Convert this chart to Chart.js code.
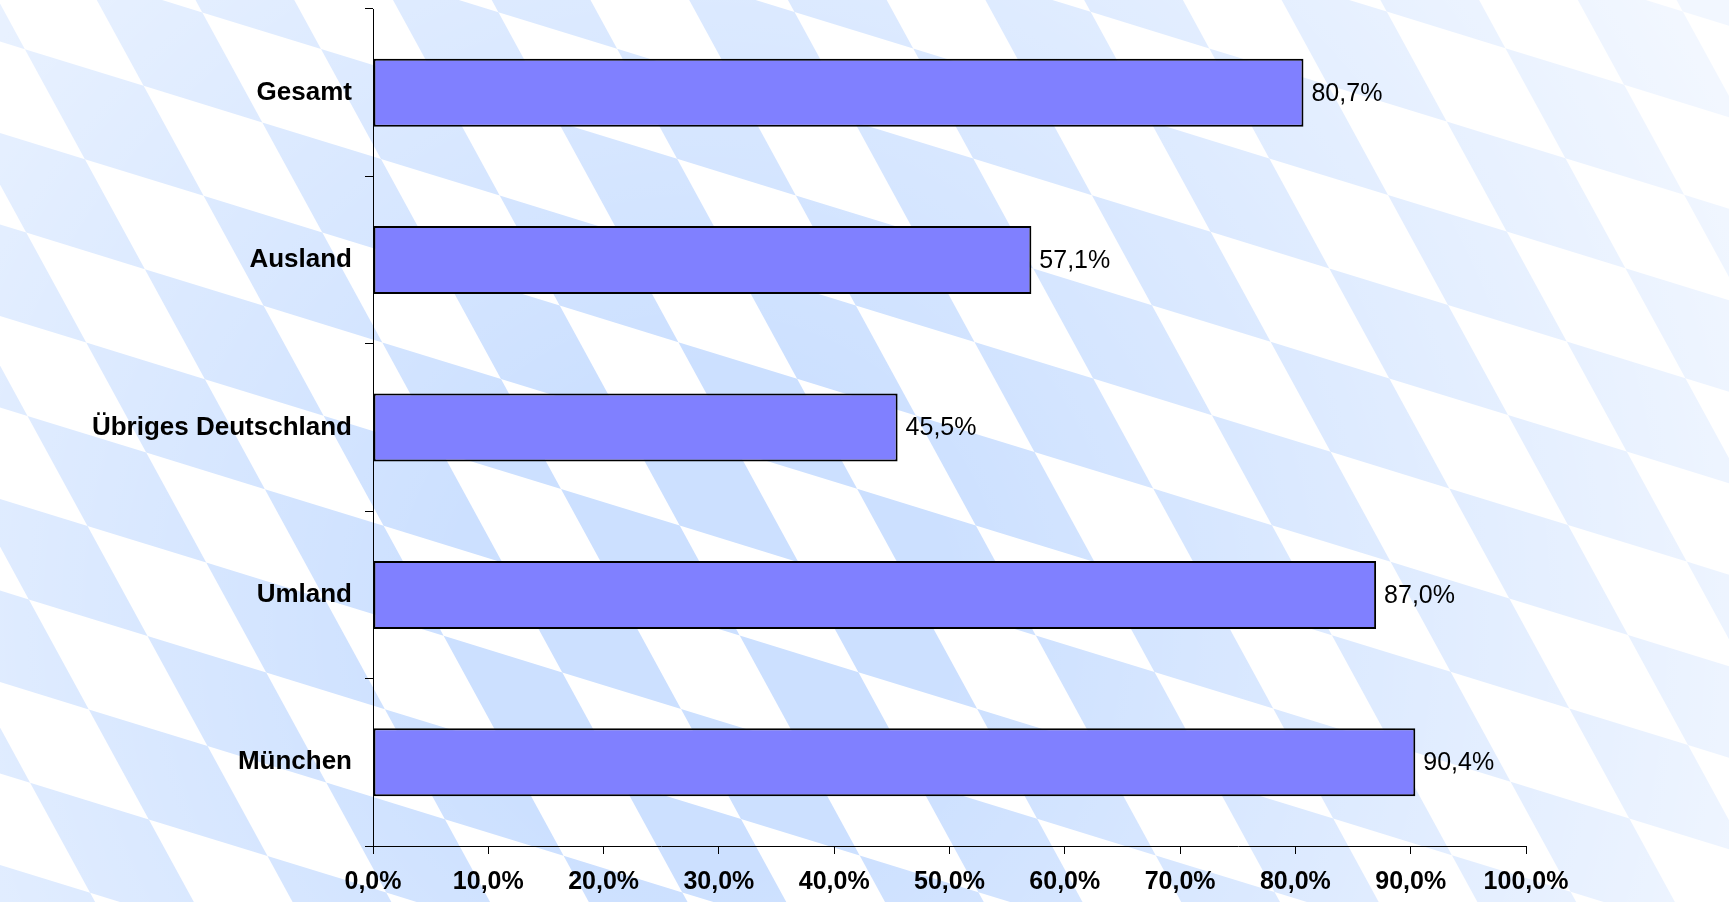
<!DOCTYPE html>
<html>
<head>
<meta charset="utf-8">
<script src="https://cdn.jsdelivr.net/npm/chart.js@4"></script>
<style>
  html, body { margin: 0; padding: 0; background: #fff; }
  #wrap { width: 1729px; height: 902px; }
</style>
</head>
<body>
<div id="wrap"><canvas id="chart" width="1729" height="902"></canvas></div>
<script>
// data
const categories = ["Gesamt", "Ausland", "Übriges Deutschland", "Umland", "München"];
const shares = [80.7, 57.1, 45.5, 87.0, 90.4];
const tickValues = [0, 10, 20, 30, 40, 50, 60, 70, 80, 90, 100];

const FONT = "'Liberation Sans', Arial, sans-serif";
const pct = (v) => v.toFixed(1).replace(".", ",") + "%";

// bavarian lozenge background
const rautenPlugin = {
  id: "rauten",
  beforeDraw(chart) {
    const ctx = chart.ctx;
    const w = chart.width, h = chart.height;
    ctx.save();
    ctx.fillStyle = "#fff";
    ctx.fillRect(0, 0, w, h);
    const o = { x: 1508, y: 415 };
    const a = { x: 118.7, y: 36.6 };
    const b = { x: 60, y: 110 };
    ctx.fillStyle = "rgb(204,224,255)";
    for (let i = -25; i <= 10; i++) {
      for (let j = -10; j <= 15; j++) {
        if ((i + j) % 2 !== 0) continue;
        const px = o.x + i * a.x + j * b.x;
        const py = o.y + i * a.y + j * b.y;
        ctx.beginPath();
        ctx.moveTo(px, py);
        ctx.lineTo(px + a.x, py + a.y);
        ctx.lineTo(px + a.x + b.x, py + a.y + b.y);
        ctx.lineTo(px + b.x, py + b.y);
        ctx.closePath();
        ctx.fill();
      }
    }
    // fade towards the edges
    const g = ctx.createRadialGradient(700, 620, 250, 700, 620, 1150);
    g.addColorStop(0, "rgba(255,255,255,0)");
    g.addColorStop(1, "rgba(255,255,255,0.75)");
    ctx.fillStyle = g;
    ctx.fillRect(0, 0, w, h);
    ctx.restore();
  }
};

const valueLabels = {
  id: "valueLabels",
  afterDatasetsDraw(chart) {
    const ctx = chart.ctx;
    const meta = chart.getDatasetMeta(0);
    ctx.save();
    ctx.font = "25px " + FONT;
    ctx.fillStyle = "#000";
    ctx.textAlign = "left";
    ctx.textBaseline = "middle";
    meta.data.forEach((bar, i) => {
      ctx.fillText(pct(shares[i]), bar.x + 8, bar.y + 1);
    });
    ctx.restore();
  }
};

new Chart(document.getElementById("chart"), {
  type: "bar",
  data: {
    labels: categories,
    datasets: [{
      data: shares,
      backgroundColor: "#8080ff",
      borderColor: "#000",
      borderWidth: 2,
      borderSkipped: false,
      barPercentage: 0.406,
      categoryPercentage: 1
    }]
  },
  options: {
    indexAxis: "y",
    responsive: false,
    animation: false,
    layout: { padding: { top: 9, right: 203, bottom: 0, left: 0 } },
    plugins: {
      legend: { display: false },
      tooltip: { enabled: false }
    },
    scales: {
      x: {
        min: 0,
        max: 100,
        afterBuildTicks: (scale) => { scale.ticks = tickValues.map((v) => ({ value: v })); },
        afterFit: (scale) => { scale.height = 56; },
        border: { display: true, color: "#000", width: 1 },
        grid: { display: true, drawOnChartArea: false, drawTicks: true, tickLength: 8, color: "#000" },
        ticks: {
          padding: 13,
          color: "#000",
          font: { family: FONT, size: 25, weight: "bold" },
          maxRotation: 0,
          callback: (v) => pct(v)
        }
      },
      y: {
        afterFit: (scale) => {
          scale.width = 373;
          scale.paddingTop = 0;
          scale.paddingBottom = 0;
        },
        border: { display: true, color: "#000", width: 1 },
        grid: { display: true, drawOnChartArea: false, drawTicks: true, tickLength: 8, color: "#000", offset: true },
        ticks: {
          padding: 13,
          color: "#000",
          font: { family: FONT, size: 26, weight: "bold" }
        }
      }
    }
  },
  plugins: [rautenPlugin, valueLabels]
});
</script>
</body>
</html>
